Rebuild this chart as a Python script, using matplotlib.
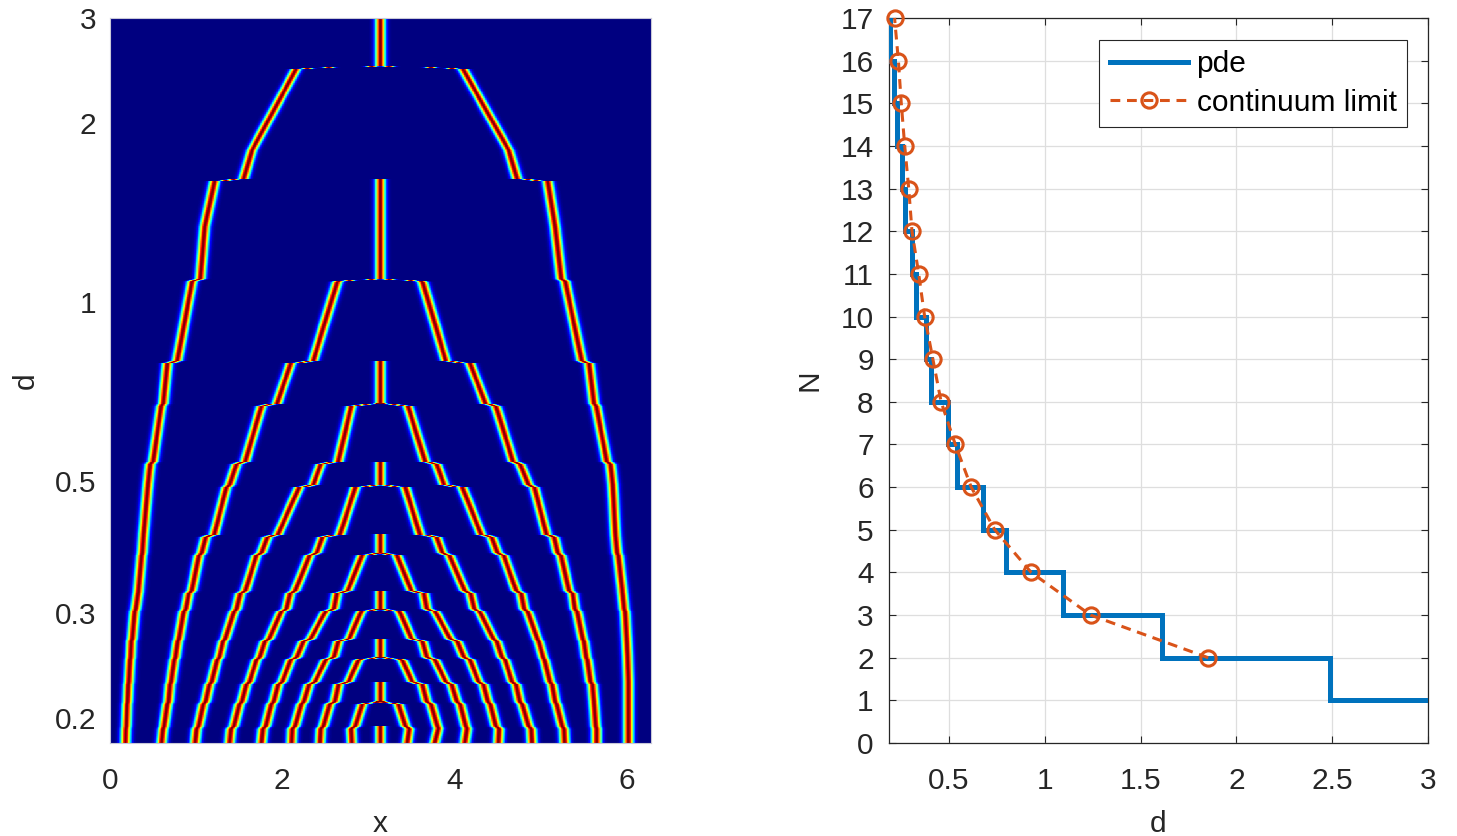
import numpy as np
import matplotlib
matplotlib.use('Agg')
import matplotlib.pyplot as plt
from matplotlib.ticker import NullLocator

plt.rcParams['font.family'] = ['Liberation Sans', 'DejaVu Sans']

# ---------------- data: left panel (spike positions) ----------------
# d at the top of each N-regime (N = 1..17); the regime ends at the next value
regime_d_top = [3.0, 2.49, 1.61, 1.094, 0.796, 0.676, 0.540, 0.493, 0.407,
                0.379, 0.327, 0.305, 0.272, 0.253, 0.230, 0.213, 0.194]
d_min_image = 0.1816

# spike positions x at the top and at the bottom of each regime
peaks_top_N01 = [3.14]
peaks_bot_N01 = [3.14]
peaks_top_N02 = [2.18, 4.08]
peaks_bot_N02 = [1.55, 4.73]
peaks_top_N03 = [1.22, 3.14, 5.08]
peaks_bot_N03 = [1.05, 3.14, 5.24]
peaks_top_N04 = [0.96, 2.65, 3.62, 5.28]
peaks_bot_N04 = [0.78, 2.36, 3.90, 5.48]
peaks_top_N05 = [0.67, 2.11, 3.14, 4.17, 5.56]
peaks_bot_N05 = [0.62, 1.94, 3.14, 4.36, 5.62]
peaks_top_N06 = [0.60, 1.77, 2.81, 3.45, 4.47, 5.64]
peaks_bot_N06 = [0.50, 1.57, 2.65, 3.66, 4.68, 5.77]
peaks_top_N07 = [0.47, 1.48, 2.46, 3.14, 3.78, 4.75, 5.81]
peaks_bot_N07 = [0.44, 1.39, 2.36, 3.14, 3.88, 4.86, 5.84]
peaks_top_N08 = [0.44, 1.36, 2.21, 2.86, 3.42, 4.08, 4.92, 5.84]
peaks_bot_N08 = [0.39, 1.21, 1.95, 2.67, 3.60, 4.31, 5.07, 5.87]
peaks_top_N09 = [0.39, 1.12, 1.84, 2.48, 3.14, 3.78, 4.42, 5.15, 5.87]
peaks_bot_N09 = [0.375, 1.065, 1.76, 2.40, 3.14, 3.86, 4.50, 5.20, 5.89]
peaks_top_N10 = [0.37, 1.04, 1.71, 2.33, 2.94, 3.32, 3.93, 4.56, 5.23, 5.90]
peaks_bot_N10 = [0.33, 0.95, 1.57, 2.15, 2.76, 3.50, 4.12, 4.72, 5.33, 5.95]
peaks_top_N11 = [0.33, 0.92, 1.52, 2.10, 2.64, 3.14, 3.64, 4.18, 4.77, 5.37, 5.95]
peaks_bot_N11 = [0.30, 0.88, 1.47, 2.05, 2.60, 3.14, 3.68, 4.23, 4.81, 5.40, 5.97]
peaks_top_N12 = [0.29, 0.86, 1.45, 2.00, 2.52, 2.93, 3.35, 3.76, 4.28, 4.84, 5.42, 5.98]
peaks_bot_N12 = [0.26, 0.80, 1.34, 1.85, 2.33, 2.78, 3.50, 3.95, 4.45, 4.96, 5.49, 6.00]
peaks_top_N13 = [0.25, 0.79, 1.32, 1.81, 2.26, 2.66, 3.14, 3.62, 4.02, 4.48, 4.97, 5.50, 6.00]
peaks_bot_N13 = [0.24, 0.76, 1.27, 1.74, 2.17, 2.60, 3.14, 3.68, 4.11, 4.55, 5.03, 5.53, 6.01]
peaks_top_N14 = [0.235, 0.75, 1.25, 1.71, 2.11, 2.52, 2.90, 3.38, 3.76, 4.17, 4.58, 5.04, 5.54, 6.01]
peaks_bot_N14 = [0.22, 0.71, 1.18, 1.62, 2.00, 2.38, 2.77, 3.51, 3.90, 4.28, 4.67, 5.11, 5.58, 6.02]
peaks_top_N15 = [0.215, 0.70, 1.16, 1.59, 1.96, 2.32, 2.66, 3.14, 3.62, 3.96, 4.33, 4.71, 5.13, 5.60, 6.02]
peaks_bot_N15 = [0.205, 0.68, 1.11, 1.53, 1.90, 2.25, 2.61, 3.14, 3.68, 4.03, 4.39, 4.76, 5.17, 5.62, 6.02]
peaks_top_N16 = [0.20, 0.67, 1.09, 1.51, 1.88, 2.23, 2.56, 2.94, 3.34, 3.72, 4.06, 4.41, 4.78, 5.18, 5.62, 6.02]
peaks_bot_N16 = [0.19, 0.63, 1.03, 1.44, 1.81, 2.15, 2.48, 2.85, 3.43, 3.80, 4.13, 4.48, 4.86, 5.25, 5.64, 6.02]
peaks_top_N17 = [0.185, 0.62, 1.01, 1.41, 1.78, 2.12, 2.45, 2.80, 3.14, 3.48, 3.82, 4.15, 4.52, 4.89, 5.27, 5.65, 6.02]
peaks_bot_N17 = [0.18, 0.60, 0.99, 1.39, 1.76, 2.11, 2.44, 2.81, 3.14, 3.45, 3.77, 4.12, 4.51, 4.90, 5.28, 5.65, 6.02]

# extra mid-regime readings (d, positions) where the tracks are visibly curved
mid_d_N02 = 1.80
peaks_mid_N02 = [1.65, 4.63]
mid_d_N03 = 1.337
peaks_mid_N03 = [1.10, 3.14, 5.17]

# ---------------- data: right panel ----------------
pde_d_edges = [0.1816, 0.194, 0.213, 0.230, 0.253, 0.272, 0.305, 0.327, 0.379,
               0.407, 0.493, 0.540, 0.676, 0.796, 1.094, 1.61, 2.49, 3.0]
pde_N = [17, 16, 15, 14, 13, 12, 11, 10, 9, 8, 7, 6, 5, 4, 3, 2, 1]
cont_N = [2, 3, 4, 5, 6, 7, 8, 9, 10, 11, 12, 13, 14, 15, 16, 17]
cont_d = [1.853, 1.239, 0.929, 0.739, 0.616, 0.533, 0.459, 0.416, 0.373,
          0.342, 0.307, 0.290, 0.269, 0.251, 0.236, 0.216]

peaks_top = [peaks_top_N01, peaks_top_N02, peaks_top_N03, peaks_top_N04, peaks_top_N05,
             peaks_top_N06, peaks_top_N07, peaks_top_N08, peaks_top_N09, peaks_top_N10,
             peaks_top_N11, peaks_top_N12, peaks_top_N13, peaks_top_N14, peaks_top_N15,
             peaks_top_N16, peaks_top_N17]
peaks_bot = [peaks_bot_N01, peaks_bot_N02, peaks_bot_N03, peaks_bot_N04, peaks_bot_N05,
             peaks_bot_N06, peaks_bot_N07, peaks_bot_N08, peaks_bot_N09, peaks_bot_N10,
             peaks_bot_N11, peaks_bot_N12, peaks_bot_N13, peaks_bot_N14, peaks_bot_N15,
             peaks_bot_N16, peaks_bot_N17]
peaks_mid = {1: (mid_d_N02, peaks_mid_N02), 2: (mid_d_N03, peaks_mid_N03)}

# ---------------- build the field ----------------
L = 2 * np.pi
nx, ny = 820, 1100
x_edges = np.linspace(0, L, nx + 1)
xc = 0.5 * (x_edges[:-1] + x_edges[1:])
ln_edges = np.linspace(np.log(d_min_image), np.log(3.0), ny + 1)
lnc = 0.5 * (ln_edges[:-1] + ln_edges[1:])
Z = np.zeros((ny, nx))
width = 0.058
delta = 0.010

ln_tops = np.log(np.array(regime_d_top))
ln_bots = np.append(ln_tops[1:], np.log(d_min_image))
for r in range(len(regime_d_top)):
    rows = np.where((lnc <= ln_tops[r]) & (lnc >= ln_bots[r]))[0]
    if rows.size == 0:
        continue
    knots_ln = [ln_bots[r]]
    knots_x = [np.array(peaks_bot[r], float)]
    if r in peaks_mid:
        knots_ln.append(np.log(peaks_mid[r][0]))
        knots_x.append(np.array(peaks_mid[r][1], float))
    knots_ln.append(ln_tops[r])
    knots_x.append(np.array(peaks_top[r], float))
    knots_x = np.array(knots_x)
    n = knots_x.shape[1]
    pos = np.column_stack([np.interp(lnc[rows], knots_ln, knots_x[:, k]) for k in range(n)])
    if r > 0:
        prev = np.array(peaks_bot[r - 1], float)
        n_prev = len(prev)
        if n_prev % 2 == 1:
            c = n_prev // 2
            src = list(range(c + 1)) + list(range(c, n_prev))
            prevm = prev[src]
        else:
            h = n_prev // 2
            prevm = np.concatenate([prev[:h], [np.nan], prev[h:]])
        s = (ln_tops[r] - lnc[rows]) / delta
        band = s < 1
        if band.any():
            pm = np.where(np.isnan(prevm), pos[band], prevm[None, :])
            pos[band] = pm + (pos[band] - pm) * s[band][:, None]
    for k in range(n):
        Z[rows] += np.exp(-((xc[None, :] - pos[:, k:k + 1]) / width) ** 2)
Z = np.clip(Z, 0, 1)

# ---------------- figure ----------------
fig = plt.figure(figsize=(14.57, 8.36), dpi=100)
axcol = '#262626'
fs = 21.5

ax1 = fig.add_axes([110 / 1457, 1 - 743 / 836, 541 / 1457, 725 / 836])
ax1.pcolormesh(x_edges, np.exp(ln_edges), Z, cmap='jet', vmin=0, vmax=1,
               shading='flat', antialiased=False, rasterized=True)
ax1.set_yscale('log')
ax1.set_xlim(0, L)
ax1.set_ylim(d_min_image, 3.0)
ax1.set_yticks([0.2, 0.3, 0.5, 1, 2, 3])
ax1.set_yticklabels(['0.2', '0.3', '0.5', '1', '2', '3'])
ax1.yaxis.set_minor_locator(NullLocator())
ax1.set_xticks([0, 2, 4, 6])
ax1.set_xticklabels(['0', '2', '4', '6'])
ax1.tick_params(axis='both', direction='in', length=0, labelsize=fs, colors=axcol)
ax1.tick_params(axis='x', pad=17)
ax1.tick_params(axis='y', pad=10)
for sp in ax1.spines.values():
    sp.set_color('#c8c8d8')
    sp.set_linewidth(0.8)
ax1.set_xlabel('x', fontsize=fs, color=axcol, labelpad=11)
ax1.set_ylabel('d', fontsize=fs, color=axcol, labelpad=11)

ax2 = fig.add_axes([889 / 1457, 1 - 743 / 836, 539 / 1457, 725 / 836])
ax2.stairs(pde_N, pde_d_edges, baseline=None, color='#0072BD', linewidth=3.6,
           label='pde', zorder=3)
ax2.plot(cont_d, cont_N, linestyle=(0, (3.2, 2.2)), color='#D95319', linewidth=2.2,
         marker='o', markersize=11, markerfacecolor='none', markeredgewidth=2.2,
         label='continuum limit', zorder=4, clip_on=False)
ax2.set_xlim(0.187, 3.0)
ax2.set_ylim(0, 17)
ax2.set_xticks([0.5, 1, 1.5, 2, 2.5, 3])
ax2.set_xticklabels(['0.5', '1', '1.5', '2', '2.5', '3'])
ax2.set_yticks(range(0, 18))
ax2.grid(True, color='#dedede', linewidth=0.9)
ax2.set_axisbelow(True)
ax2.tick_params(axis='both', direction='in', length=5, width=0.8, labelsize=fs,
                colors=axcol, top=True, right=True)
ax2.tick_params(axis='x', pad=17)
ax2.tick_params(axis='y', pad=11)
for sp in ax2.spines.values():
    sp.set_color(axcol)
    sp.set_linewidth(0.9)
ax2.set_xlabel('d', fontsize=fs, color=axcol, labelpad=11)
ax2.set_ylabel('N', fontsize=fs, color=axcol, labelpad=12)
leg = ax2.legend(loc='upper right', bbox_to_anchor=(0.961, 0.970), borderaxespad=0,
                 fontsize=fs, frameon=True, fancybox=False, edgecolor=axcol,
                 framealpha=1, handlelength=2.6, handletextpad=0.3,
                 borderpad=0.35, labelspacing=0.35)
leg.get_frame().set_linewidth(0.8)

fig.savefig('out.png', dpi=100)
